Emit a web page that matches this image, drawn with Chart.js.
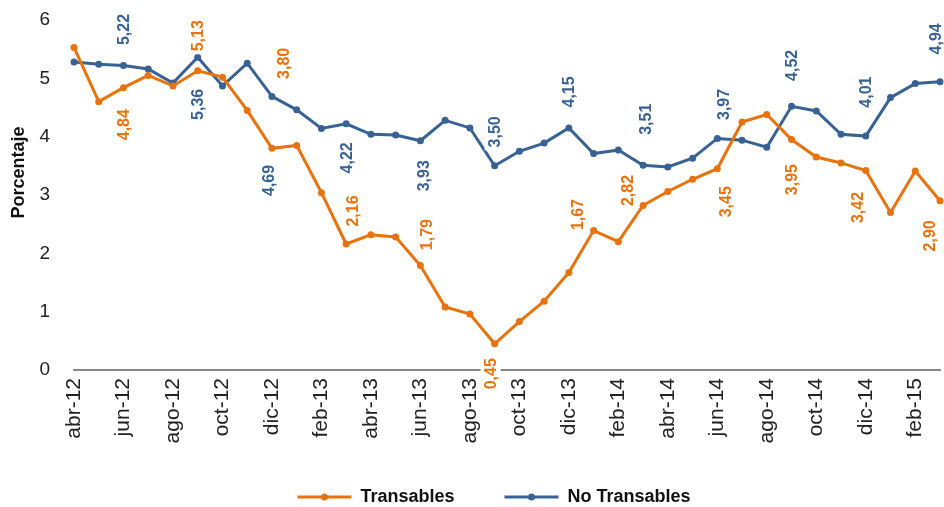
<!DOCTYPE html>
<html>
<head>
<meta charset="utf-8">
<script src="https://cdn.jsdelivr.net/npm/chart.js@4.4.0/dist/chart.umd.min.js"></script>
<style>
  html, body { margin: 0; padding: 0; background: #fff; }
</style>
</head>
<body>
<canvas id="grafico" width="944" height="507"></canvas>
<script>
// meses (abr-12 a mar-15)
const meses = ['abr-12','may-12','jun-12','jul-12','ago-12','sep-12','oct-12','nov-12','dic-12',
  'ene-13','feb-13','mar-13','abr-13','may-13','jun-13','jul-13','ago-13','sep-13','oct-13','nov-13','dic-13',
  'ene-14','feb-14','mar-14','abr-14','may-14','jun-14','jul-14','ago-14','sep-14','oct-14','nov-14','dic-14',
  'ene-15','feb-15','mar-15'];

// inflacion de transables
const transables = [5.53, 4.60, 4.84, 5.05, 4.87, 5.13, 5.02, 4.45, 3.80,
  3.85, 3.04, 2.16, 2.32, 2.28, 1.79, 1.08, 0.96, 0.45, 0.83, 1.18, 1.67,
  2.39, 2.20, 2.82, 3.06, 3.27, 3.45, 4.25, 4.38, 3.95, 3.65, 3.55, 3.42,
  2.70, 3.41, 2.90];

// inflacion de no transables
const noTransables = [5.28, 5.24, 5.22, 5.16, 4.92, 5.36, 4.87, 5.26, 4.69,
  4.46, 4.14, 4.22, 4.04, 4.03, 3.93, 4.28, 4.15, 3.50, 3.75, 3.89, 4.15,
  3.71, 3.77, 3.51, 3.48, 3.63, 3.97, 3.94, 3.82, 4.52, 4.44, 4.04, 4.01,
  4.67, 4.91, 4.94];

// meses con etiqueta de dato (cada trimestre)
const idxEtiquetas = [2, 5, 8, 11, 14, 17, 20, 23, 26, 29, 32, 35];

// desplazamiento de cada etiqueta respecto a su punto (px)
const despNaranja = [[0,37],[0,-35],[12,-85],[6,-33],[6,-31],[-4,30],[9,-58],[-15,-15],[8,33],[0,40],[-8,37],[-10,35]];
const despAzul = [[0,-36],[0,47],[-3,84],[0,34],[3,35],[0,-34],[0,-36],[3,-46],[6,-34],[0,-41],[0,-44],[-4,-43]];

const NARANJA = '#E8720C';
const AZUL = '#386294';
const fuente = '"Liberation Sans", Arial, sans-serif';

const etiquetasPlugin = {
  id: 'etiquetas',
  afterLayout(chart) {
    // la leyenda del original va algo a la derecha y abajo
    const lg = chart.legend;
    if (lg) {
      lg.left += 23; lg.right += 23;
      lg.top += 9; lg.bottom += 9;
    }
    // dejar sitio a las etiquetas giradas del eje x (evita el recorte)
    const xs = chart.scales.x;
    xs.bottom = xs.top + 85;
    xs.height = 85;
  },
  // etiquetas de datos giradas con fondo blanco
  afterDatasetsDraw(chart) {
    const ctx = chart.ctx;
    ctx.save();
    ctx.font = 'bold 16px ' + fuente;
    ctx.textAlign = 'center';
    ctx.textBaseline = 'middle';
    chart.data.datasets.forEach((ds, d) => {
      const meta = chart.getDatasetMeta(d);
      const desp = d === 0 ? despNaranja : despAzul;
      idxEtiquetas.forEach((i, k) => {
        const p = meta.data[i];
        const txt = ds.data[i].toFixed(2).replace('.', ',');
        const w = ctx.measureText(txt).width;
        ctx.save();
        ctx.translate(p.x + desp[k][0], p.y + desp[k][1]);
        ctx.rotate(-Math.PI / 2);
        ctx.fillStyle = '#fff';
        ctx.fillRect(-w / 2 - 3, -10, w + 6, 20);
        ctx.fillStyle = ds.borderColor;
        ctx.fillText(txt, 0, 1);
        ctx.restore();
      });
    });
    ctx.restore();
  },
  // punto en medio de la linea de la leyenda
  afterDraw(chart) {
    const lg = chart.legend;
    if (!lg || !lg.legendHitBoxes) return;
    const ctx = chart.ctx;
    const bw = lg.options.labels.boxWidth;
    const fs = lg.options.labels.font.size;
    ctx.save();
    lg.legendHitBoxes.forEach((hb, i) => {
      ctx.fillStyle = chart.data.datasets[i].borderColor;
      ctx.beginPath();
      ctx.arc(hb.left + bw / 2, hb.top + fs / 2, 3.5, 0, Math.PI * 2);
      ctx.fill();
    });
    ctx.restore();
  }
};

const config = {
  type: 'line',
  data: {
    labels: meses,
    datasets: [
      {
        label: 'Transables',
        data: transables,
        borderColor: NARANJA,
        backgroundColor: NARANJA,
        borderWidth: 3,
        pointRadius: 3.5,
        pointBorderWidth: 0,
        tension: 0
      },
      {
        label: 'No Transables',
        data: noTransables,
        borderColor: AZUL,
        backgroundColor: AZUL,
        borderWidth: 3,
        pointRadius: 3.5,
        pointBorderWidth: 0,
        tension: 0
      }
    ]
  },
  options: {
    responsive: false,
    animation: false,
    devicePixelRatio: 1,
    layout: { padding: { top: 20, right: 2, left: 0, bottom: 0 } },
    plugins: {
      legend: {
        position: 'bottom',
        labels: {
          boxWidth: 54,
          boxHeight: 3,
          padding: 50,
          color: '#111',
          font: { family: fuente, size: 18, weight: 'bold' },
          generateLabels(chart) {
            return Chart.defaults.plugins.legend.labels.generateLabels(chart).map(it => {
              it.fillStyle = it.strokeStyle;
              it.lineWidth = 0;
              return it;
            });
          }
        }
      },
      tooltip: { enabled: false }
    },
    scales: {
      x: {
        offset: false,
        grid: { display: false, drawTicks: false },
        border: { display: true, color: '#888', width: 2 },
        ticks: {
          autoSkip: false,
          maxRotation: 90,
          minRotation: 90,
          padding: 8,
          color: '#222',
          font: { family: fuente, size: 21 },
          callback: (v, i) => (i % 2 === 0 ? meses[i] : '')
        },
        afterFit(s) {
          s.height = 59;
          s.paddingLeft = 0;
          s.paddingRight = 0;
        }
      },
      y: {
        min: 0,
        max: 6,
        grid: { display: false, drawTicks: false },
        border: { display: false },
        ticks: {
          stepSize: 1,
          padding: 24,
          color: '#222',
          font: { family: fuente, size: 19 }
        },
        title: {
          display: true,
          text: '         Porcentaje',
          color: '#111',
          padding: { top: 8, bottom: 0 },
          font: { family: fuente, size: 18, weight: 'bold' }
        },
        afterFit(s) {
          s.width = 74;
          s.paddingTop = 0;
          s.paddingBottom = 0;
        }
      }
    }
  },
  plugins: [etiquetasPlugin]
};

const miGrafico = new Chart(document.getElementById('grafico'), config);
</script>
</body>
</html>
